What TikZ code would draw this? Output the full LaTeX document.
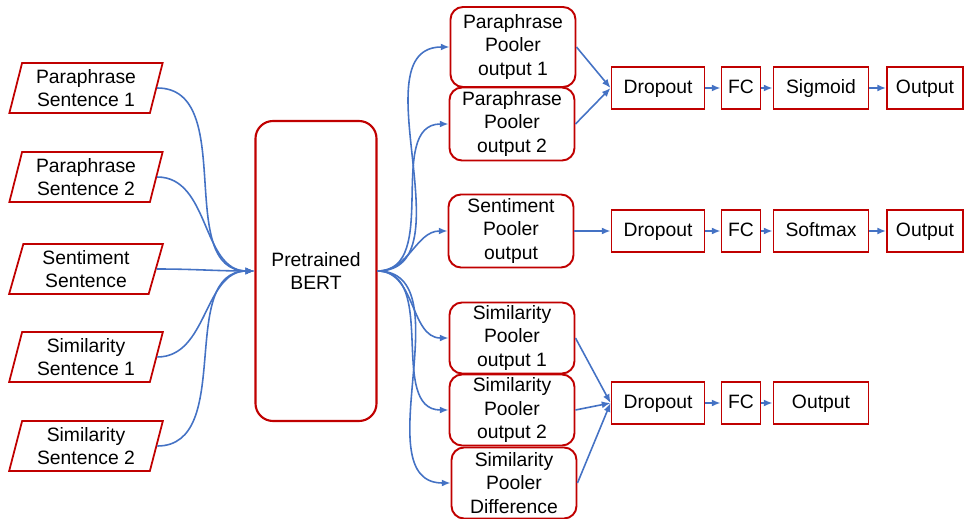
\documentclass[tikz,border=0pt]{standalone}
\usepackage{fontspec}
\setmainfont{Liberation Sans}
\usetikzlibrary{shapes.geometric, positioning, arrows.meta}
\definecolor{boxred}{RGB}{192,0,0}
\definecolor{lineblue}{RGB}{68,114,196}
\tikzset{
  inputbox/.style={trapezium, trapezium left angle=76, trapezium right angle=104, trapezium stretches=true, minimum width=3.08cm, minimum height=1cm, align=center, draw=boxred, line width=1pt, inner sep=1pt},
  bertbox/.style={rectangle, rounded corners=0.35cm, minimum width=2.42cm, minimum height=6cm, align=center, draw=boxred, line width=1.2pt},
  pooler/.style={rectangle, rounded corners=0.25cm, minimum width=2.5cm, minimum height=1.42cm, align=center, draw=boxred, line width=1.1pt, inner sep=1pt},
  layer/.style={rectangle, minimum height=0.84cm, text height=1.6ex, text depth=0.45ex, align=center, draw=boxred, line width=1.1pt, inner sep=2pt},
  arrow/.style={lineblue, line width=0.9pt, -{Latex[length=5pt,width=4pt]}}
}
\begin{document}
\begin{tikzpicture}[x=0.2mm, y=-0.2mm, font=\fontsize{11}{13.4}\selectfont]
  \useasboundingbox (0,0) rectangle (964,519);

  % Eingaben
  \node[inputbox] (ps1) at (86,88) {Paraphrase\\Sentence 1};
  \node[inputbox] (ps2) at (86,177) {Paraphrase\\Sentence 2};
  \node[inputbox] (ss) at (86,269) {Sentiment\\Sentence};
  \node[inputbox] (sim1) at (86,357) {Similarity\\Sentence 1};
  \node[inputbox] (sim2) at (86,446) {Similarity\\Sentence 2};

  % BERT
  \node[bertbox] (bert) at (316,271) {Pretrained\\BERT};

  % Pooler-Ausgaben
  \node[pooler, minimum height=1.6cm] (pp1) at (513,47) {Paraphrase\\Pooler\\output 1};
  \node[pooler, minimum height=1.46cm] (pp2) at (512,124) {Paraphrase\\Pooler\\output 2};
  \node[pooler, minimum height=1.46cm] (spo) at (511,231) {Sentiment\\Pooler\\output};
  \node[pooler] (sp1) at (512,338) {Similarity\\Pooler\\output 1};
  \node[pooler] (sp2) at (512,410) {Similarity\\Pooler\\output 2};
  \node[pooler] (spd) at (514,483) {Similarity\\Pooler\\Difference};

  % Kopf Paraphrase
  \node[layer, minimum width=1.86cm] (drop1) at (658,88) {Dropout};
  \node[layer, minimum width=0.78cm] (fc1) at (741,88) {FC};
  \node[layer, minimum width=1.9cm] (sig) at (821,88) {Sigmoid};
  \node[layer, minimum width=1.52cm] (out1) at (925,88) {Output};

  % Kopf Sentiment
  \node[layer, minimum width=1.86cm] (drop2) at (658,231) {Dropout};
  \node[layer, minimum width=0.78cm] (fc2) at (741,231) {FC};
  \node[layer, minimum width=1.9cm] (soft) at (821,231) {Softmax};
  \node[layer, minimum width=1.52cm] (out2) at (925,231) {Output};

  % Kopf Similarity
  \node[layer, minimum width=1.86cm] (drop3) at (658,403) {Dropout};
  \node[layer, minimum width=0.78cm] (fc3) at (741,403) {FC};
  \node[layer, minimum width=1.9cm] (out3) at (821,403) {Output};

  % Verbindungen
  \foreach \src in {ps1,ps2,ss,sim1,sim2}
    \draw[arrow] (\src.east) to[out=0, in=180] (bert.west);
  \foreach \dst in {pp1,pp2,spo,sp1,sp2,spd}
    \draw[arrow] (bert.east) to[out=0, in=180] (\dst.west);

  \draw[arrow] (pp1.east) -- (drop1.west);
  \draw[arrow] (pp2.east) -- (drop1.west);
  \draw[arrow] (spo.east) -- (drop2.west);
  \draw[arrow] (sp1.east) -- (drop3.west);
  \draw[arrow] (sp2.east) -- (drop3.west);
  \draw[arrow] (spd.east) -- (drop3.west);

  \draw[arrow] (drop1) -- (fc1);
  \draw[arrow] (fc1) -- (sig);
  \draw[arrow] (sig) -- (out1);
  \draw[arrow] (drop2) -- (fc2);
  \draw[arrow] (fc2) -- (soft);
  \draw[arrow] (soft) -- (out2);
  \draw[arrow] (drop3) -- (fc3);
  \draw[arrow] (fc3) -- (out3);
\end{tikzpicture}
\end{document}
